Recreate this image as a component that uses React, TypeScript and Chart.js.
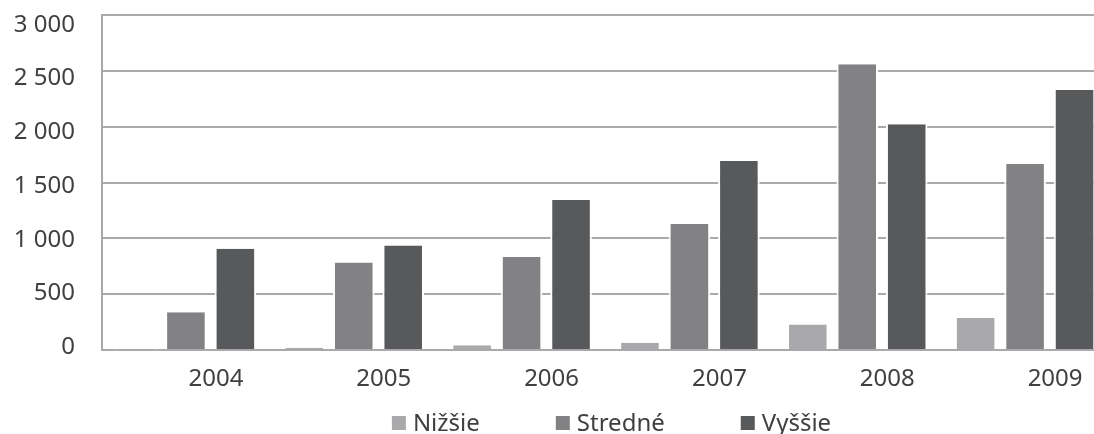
import React, { useEffect, useRef } from "react";
import { Chart, registerables } from "chart.js";

Chart.register(...registerables);

// Years on the x axis
const categories = ["2004", "2005", "2006", "2007", "2008", "2009"];

// Series values per year
const nizsie = [5, 20, 43, 64, 229, 286];
const stredne = [338, 784, 832, 1129, 2560, 1665];
const vyssie = [906, 936, 1344, 1692, 2021, 2328];

// Value-axis tick labels
const yTicks = [0, 500, 1000, 1500, 2000, 2500, 3000];

const seriesNames = ["Nižšie", "Stredné", "Vyššie"];
const seriesColors = ["#a9a9ab", "#828285", "#58595b"];

const FONT = '"Noto Sans", "DejaVu Sans", sans-serif';
const TEXT = "#404041";
const GRID = "#a9a9ab";

const formatThousands = (v: number) =>
  String(v).replace(/\B(?=(\d{3})+(?!\d))/g, " ");

// Keep the plot area exactly where the layout puts it
const noEdgePadding = (scale: any) => {
  scale.paddingTop = 0;
  scale.paddingBottom = 0;
  scale.paddingLeft = 0;
  scale.paddingRight = 0;
};

// Legend drawn below the axis labels, centred under the plot area
const bottomLegend = {
  id: "bottomLegend",
  afterDraw(chart: any) {
    const { ctx, chartArea } = chart;
    const box = 14;
    const boxGap = 7;
    const itemGap = 76;
    ctx.save();
    ctx.font = `24px ${FONT}`;
    const items = chart.data.datasets.map((ds: any) => ({
      label: ds.label as string,
      color: ds.backgroundColor as string,
      w: ctx.measureText(ds.label).width,
    }));
    const total =
      items.reduce((s: number, it: any) => s + box + boxGap + it.w, 0) +
      itemGap * (items.length - 1);
    let x = (chartArea.left + chartArea.right) / 2 + 6 - total / 2;
    const cy = 423;
    ctx.textBaseline = "middle";
    ctx.textAlign = "left";
    for (const it of items) {
      ctx.fillStyle = it.color;
      ctx.fillRect(x, cy - box / 2, box, box);
      x += box + boxGap;
      ctx.fillStyle = TEXT;
      ctx.fillText(it.label, x, cy + 1);
      x += it.w + itemGap;
    }
    ctx.restore();
  },
};

export default function App() {
  const canvasRef = useRef<HTMLCanvasElement | null>(null);

  useEffect(() => {
    const canvas = canvasRef.current;
    if (!canvas) return;
    const data = [nizsie, stredne, vyssie];
    const chart = new Chart(canvas, {
      type: "bar",
      data: {
        labels: categories,
        datasets: seriesNames.map((name, i) => ({
          label: name,
          data: data[i],
          backgroundColor: seriesColors[i],
          borderColor: "#ffffff",
          borderWidth: { left: 2, right: 2, top: 0, bottom: 0 },
          borderSkipped: false,
          categoryPercentage: 0.884,
          barPercentage: 0.84,
        })),
      },
      options: {
        responsive: false,
        animation: false,
        devicePixelRatio: 1,
        layout: { padding: { top: 15, right: 0, bottom: 0, left: 0 } },
        plugins: {
          legend: { display: false },
          tooltip: { enabled: false },
        },
        scales: {
          x: {
            type: "category",
            offset: true,
            grid: { display: false, drawTicks: false },
            border: { display: true, color: GRID, width: 2 },
            ticks: {
              color: TEXT,
              font: { family: FONT, size: 24 },
              padding: 15,
              labelOffset: 30,
              maxRotation: 0,
              autoSkip: false,
            },
            afterFit: (scale: any) => {
              scale.height = 84;
              noEdgePadding(scale);
            },
          },
          y: {
            type: "linear",
            position: "left",
            min: 0,
            max: 3000,
            weight: 0,
            ticks: { display: false, stepSize: 500 },
            grid: { color: GRID, lineWidth: 2, drawTicks: false },
            border: { display: true, color: GRID, width: 2 },
            afterFit: (scale: any) => {
              scale.width = 0;
              noEdgePadding(scale);
            },
          },
          yl: {
            type: "linear",
            axis: "y",
            position: "left",
            min: -28,
            max: 3093,
            weight: 1,
            grid: { display: false, drawTicks: false },
            border: { display: false },
            afterBuildTicks: (scale: any) => {
              scale.ticks = yTicks.map((v) => ({ value: v }));
            },
            ticks: {
              color: TEXT,
              font: { family: FONT, size: 24 },
              padding: 27,
              callback: (v: any) => formatThousands(Number(v)),
            },
            afterFit: (scale: any) => {
              scale.width = 102;
              noEdgePadding(scale);
            },
          },
        },
      },
      plugins: [bottomLegend],
    } as any);
    return () => chart.destroy();
  }, []);

  return (
    <div
      style={{
        position: "fixed",
        left: 0,
        top: 0,
        width: 1094,
        height: 434,
        overflow: "hidden",
        background: "#ffffff",
      }}
    >
      <canvas
        ref={canvasRef}
        width={1109}
        height={434}
        style={{ display: "block", width: 1109, height: 434 }}
      />
    </div>
  );
}
